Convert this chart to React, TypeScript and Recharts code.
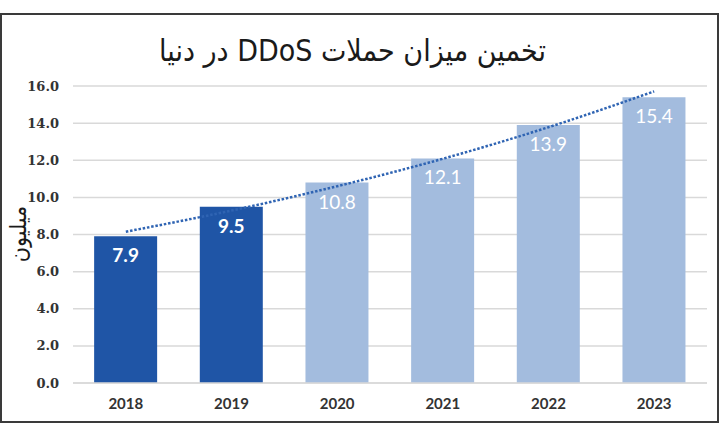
import React from 'react';
import { ComposedChart, Bar, Line, XAxis, YAxis, CartesianGrid, Cell, LabelList } from 'recharts';

const years = ['2018', '2019', '2020', '2021', '2022', '2023'];
const attacks = [7.9, 9.5, 10.8, 12.1, 13.9, 15.4];
const kinds = ['actual', 'actual', 'forecast', 'forecast', 'forecast', 'forecast'];
const trend = [8.15, 9.29, 10.6, 12.08, 13.78, 15.71];
const yTicks = [0, 2, 4, 6, 8, 10, 12, 14, 16];
const title = 'تخمین میزان حملات DDoS در دنیا';
const yLabel = 'میلیون';

const DARK = '#1F55A6';
const LIGHT = '#A3BCDE';

const data = years.map((y, i) => ({ year: y, value: attacks[i], kind: kinds[i], trend: trend[i] }));

const BarLabel = (props: any) => {
  const { x, y, width, value, index } = props;
  const bold = kinds[index] === 'actual';
  return (
    <text
      x={x + width / 2}
      y={y + 26}
      textAnchor="middle"
      fill="#ffffff"
      fontFamily="Lato, 'Open Sans', sans-serif"
      fontSize={19}
      fontWeight={bold ? 700 : 400}
    >
      {value.toFixed(1)}
    </text>
  );
};

export default function App() {
  return (
    <div style={{ position: 'absolute', left: 0, top: 0, width: 720, height: 425, background: '#fff', overflow: 'hidden' }}>
      <div
        style={{
          position: 'absolute',
          left: 0,
          top: 13,
          width: 719,
          height: 410,
          boxSizing: 'border-box',
          border: '2px solid #3a3a3a',
        }}
      />
      <div
        style={{
          position: 'absolute',
          left: 0,
          top: 30,
          width: 705,
          textAlign: 'center',
          direction: 'rtl',
          fontFamily: "'DejaVu Sans Condensed', 'DejaVu Sans', sans-serif",
          fontSize: 30,
          color: '#1a1a1a',
          lineHeight: '42px',
        }}
      >
        {title}
      </div>
      <div
        style={{
          position: 'absolute',
          left: 18,
          top: 234,
          transform: 'translate(-50%, -50%) rotate(-90deg)',
          fontFamily: "'DejaVu Sans Condensed', 'DejaVu Sans', sans-serif",
          fontSize: 23,
          color: '#1a1a1a',
          whiteSpace: 'nowrap',
          direction: 'rtl',
        }}
      >
        {yLabel}
      </div>
      <div style={{ position: 'absolute', left: 0, top: 0 }}>
        <ComposedChart
          width={720}
          height={425}
          data={data}
          margin={{ top: 86, right: 13, bottom: 12, left: 13 }}
          barCategoryGap="20%"
        >
          <CartesianGrid vertical={false} stroke="#d9d9d9" strokeWidth={1.5} />
          <XAxis
            dataKey="year"
            height={30}
            tickLine={false}
            axisLine={{ stroke: '#d9d9d9', strokeWidth: 1.5 }}
            tickMargin={9}
            tick={{ fill: '#333', fontFamily: "Lato, 'Open Sans', sans-serif", fontWeight: 700, fontSize: 15 }}
          />
          <YAxis
            width={60}
            domain={[0, 16]}
            ticks={yTicks}
            interval={0}
            tickLine={false}
            axisLine={false}
            tickMargin={8}
            tickFormatter={(v: number) => v.toFixed(1)}
            tick={{ fill: '#333', fontFamily: "'DejaVu Serif', serif", fontWeight: 700, fontSize: 13 }}
          />
          <Bar dataKey="value" isAnimationActive={false}>
            {data.map((d, i) => (
              <Cell key={i} fill={d.kind === 'actual' ? DARK : LIGHT} />
            ))}
            <LabelList dataKey="value" content={<BarLabel />} />
          </Bar>
          <Line
            dataKey="trend"
            type="monotone"
            stroke="#2F64B3"
            strokeWidth={2.5}
            strokeDasharray="2.5 1.8"
            dot={false}
            activeDot={false}
            isAnimationActive={false}
          />
        </ComposedChart>
      </div>
    </div>
  );
}
